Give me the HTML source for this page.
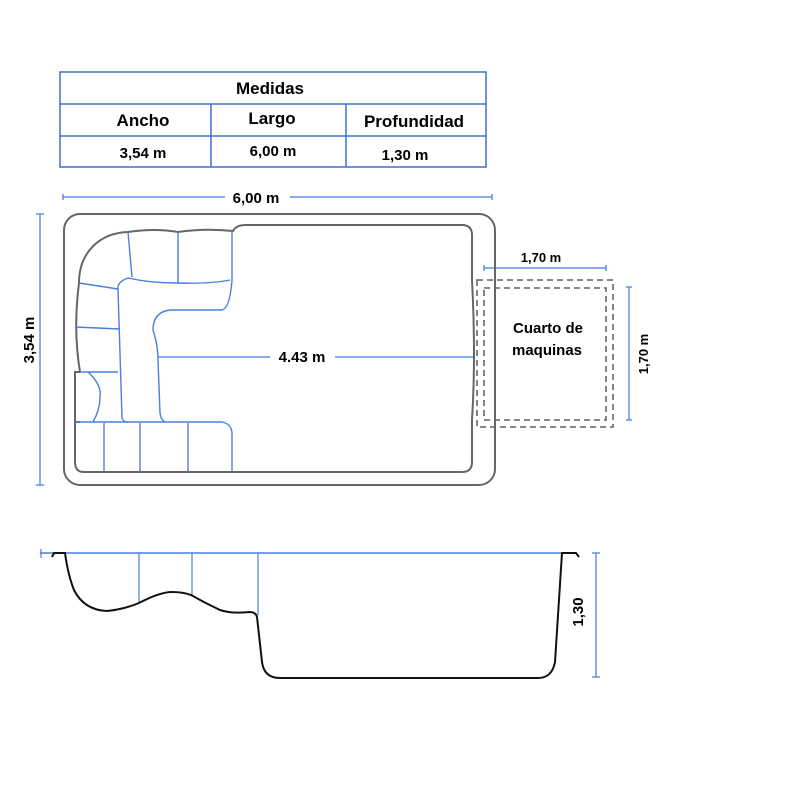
<!DOCTYPE html>
<html><head><meta charset="utf-8"><style>
html,body{margin:0;padding:0;background:#fff;}
svg{display:block;}
text{font-family:"Liberation Sans",Arial,sans-serif;font-weight:bold;fill:#000;}
</style></head><body>
<svg width="800" height="800" viewBox="0 0 800 800" xmlns="http://www.w3.org/2000/svg">
<!-- Table -->
<g stroke="#3d6fd6" stroke-width="1.5" fill="none">
<rect x="60" y="72" width="426" height="95"/>
<line x1="60" y1="104" x2="486" y2="104"/>
<line x1="60" y1="136" x2="486" y2="136"/>
<line x1="211" y1="104" x2="211" y2="167"/>
<line x1="346" y1="104" x2="346" y2="167"/>
</g>
<text x="270" y="94" font-size="17" text-anchor="middle">Medidas</text>
<text x="143" y="126" font-size="17" text-anchor="middle">Ancho</text>
<text x="272" y="124" font-size="17" text-anchor="middle">Largo</text>
<text x="414" y="127" font-size="17" text-anchor="middle">Profundidad</text>
<text x="143" y="158" font-size="15" text-anchor="middle">3,54 m</text>
<text x="273" y="156" font-size="15" text-anchor="middle">6,00 m</text>
<text x="405" y="160" font-size="15" text-anchor="middle">1,30 m</text>

<!-- Dimensions -->
<g stroke="#3d7be0" stroke-width="1.2" fill="none">
<line x1="63" y1="197" x2="225" y2="197"/>
<line x1="290" y1="197" x2="492" y2="197"/>
<line x1="63" y1="194" x2="63" y2="200"/><line x1="492" y1="194" x2="492" y2="200"/>
<line x1="40" y1="214" x2="40" y2="485"/>
<line x1="36" y1="214" x2="44" y2="214"/><line x1="36" y1="485" x2="44" y2="485"/>
<line x1="484" y1="268" x2="606" y2="268"/>
<line x1="484" y1="265" x2="484" y2="271"/><line x1="606" y1="265" x2="606" y2="271"/>
<line x1="629" y1="287" x2="629" y2="420"/>
<line x1="626" y1="287" x2="632" y2="287"/><line x1="626" y1="420" x2="632" y2="420"/>
<line x1="158" y1="357" x2="270" y2="357"/>
<line x1="335" y1="357" x2="474" y2="357"/>
<line x1="596" y1="553" x2="596" y2="677"/>
<line x1="592" y1="553" x2="600" y2="553"/><line x1="592" y1="677" x2="600" y2="677"/>
</g>
<text x="256" y="203" font-size="15" text-anchor="middle">6,00 m</text>
<text transform="translate(34,340) rotate(-90)" font-size="15" text-anchor="middle">3,54 m</text>
<text x="541" y="262" font-size="13" text-anchor="middle">1,70 m</text>
<text transform="translate(648,354) rotate(-90)" font-size="13" text-anchor="middle">1,70 m</text>
<text x="302" y="362" font-size="15" text-anchor="middle">4.43 m</text>
<text x="548" y="333" font-size="15" text-anchor="middle">Cuarto de</text>
<text x="547" y="355" font-size="15" text-anchor="middle">maquinas</text>
<text transform="translate(583,612) rotate(-90)" font-size="15" text-anchor="middle">1,30</text>

<!-- Machine room -->
<g stroke="#777" stroke-width="1.8" fill="none" stroke-dasharray="6,4">
<rect x="477" y="280" width="136" height="147"/>
<rect x="484" y="288" width="122" height="132"/>
</g>

<!-- Pool plan -->
<g stroke="#666" stroke-width="2" fill="none">
<rect x="64" y="214" width="431" height="271" rx="16"/>
<path d="M80,372 Q73,330 79,283 C79,252 100,233 128,232 Q155,228 178,232 Q205,228 233,231 Q236,225 246,225 L462,225 Q472,225 472,235 L472,280 Q476,357 472,420 L472,462 Q472,472 462,472 L84,472 Q75,472 75,462 L75,423"/>
<path d="M80,372 L75,372 L75,422 L80,422"/>
</g>
<g stroke="#4a7fe0" stroke-width="1.4" fill="none">
<path d="M232,231 L232,280 Q230,308 222,310 L170,310 Q153,312 153,330 Q158,345 158,360 L160,413 Q161,420 165,422"/>
<path d="M75,422 L222,422 Q232,424 232,434 L232,472"/>
<path d="M118,289 Q117,282 128,278 Q150,283 177,283 Q210,284 230,280"/>
<path d="M118,289 L122,418 Q123,422 128,422"/>
<line x1="128" y1="232" x2="132" y2="277"/>
<line x1="178" y1="232" x2="178" y2="283"/>
<line x1="79" y1="283" x2="118" y2="289"/>
<line x1="75" y1="327" x2="120" y2="329"/>
<line x1="80" y1="372" x2="118" y2="372"/>
<path d="M88,372 Q102,385 100,397 Q100,410 93,422"/>
<line x1="104" y1="423" x2="104" y2="472"/>
<line x1="140" y1="423" x2="140" y2="472"/>
<line x1="188" y1="423" x2="188" y2="472"/>
</g>

<!-- Section -->
<line x1="40" y1="553" x2="562" y2="553" stroke="#4a7fe0" stroke-width="1.4"/>
<line x1="41" y1="549" x2="41" y2="558" stroke="#4a7fe0" stroke-width="1.2"/>
<g stroke="#4a7fe0" stroke-width="1.2">
<line x1="139" y1="553" x2="139" y2="603"/>
<line x1="192" y1="553" x2="192" y2="595"/>
<line x1="258" y1="553" x2="258" y2="615"/>
</g>
<path d="M52,557 L54,553 L65,553 Q68,575 74,590 Q84,610 107,611 Q125,609 139,603 Q160,592 172,592 Q183,592 191,595 Q205,603 220,610 Q232,614 249,612 Q256,612 257,617 L262,662 Q264,678 280,678 L538,678 Q552,678 555,662 L562,553 L576,553 L579,557" stroke="#111" stroke-width="2" fill="none"/>
</svg>
</body></html>
